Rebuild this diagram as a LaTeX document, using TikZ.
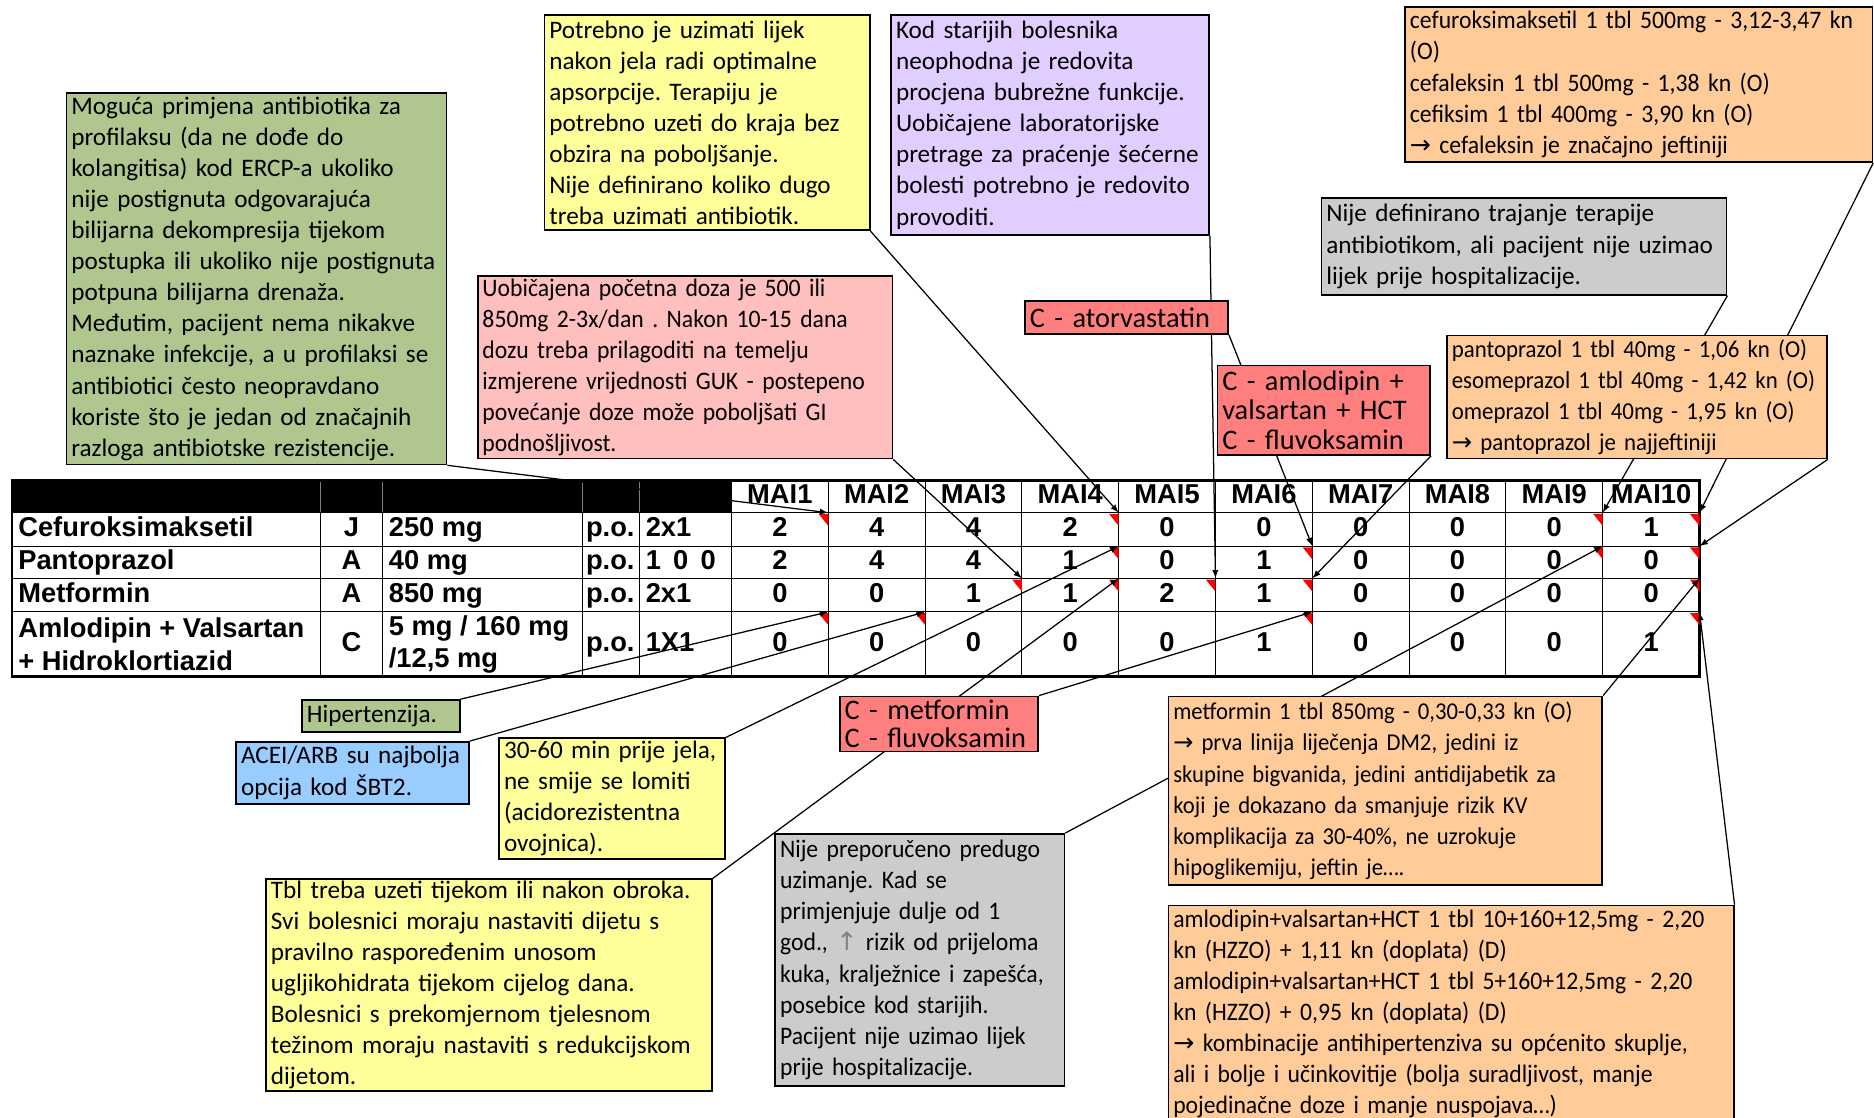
\documentclass[tikz,border=0pt]{standalone}
\usepackage{fontspec}
\setmainfont{Carlito}
\newfontfamily\slimfont{Carlito}[FakeStretch=0.94]
\newfontfamily\tabfont{Liberation Sans}
\newfontfamily\symfont{DejaVu Sans}
\usetikzlibrary{arrows.meta}
\frenchspacing

\definecolor{notegreen}{RGB}{175,199,142}
\definecolor{noteyellow}{RGB}{255,255,153}
\definecolor{notepurple}{RGB}{225,205,255}
\definecolor{noteorange}{RGB}{255,204,153}
\definecolor{notegrey}{RGB}{204,204,204}
\definecolor{notepink}{RGB}{255,191,191}
\definecolor{notered}{RGB}{255,127,127}
\definecolor{noteblue}{RGB}{153,204,255}

\newcommand{\arr}{{\symfont\char"2192}}
\newcommand{\up}{{\symfont\color{gray}\char"2191}}
\newcommand{\nobreaks}{\hyphenpenalty=10000\exhyphenpenalty=10000}

\pgfdeclarelayer{grid}
\pgfdeclarelayer{links}
\pgfsetlayers{grid,links,main}

\tikzset{
  note/.style={draw=black, line width=0.8pt, anchor=north west, align=left,
    inner xsep=0.08cm, inner ysep=0pt, font=\fontsize{12}{14.8}\selectfont\nobreaks},
  slim/.style={font=\slimfont\fontsize{12}{14.8}\selectfont\nobreaks},
  rednote/.style={note, fill=notered, font=\fontsize{13.5}{14.2}\selectfont\nobreaks},
  cell/.style={font=\tabfont\bfseries\fontsize{13}{15.3}\selectfont, inner sep=0pt,
    text height=9.4pt, text depth=2.7pt},
  link/.style={line width=0.6pt, -{Latex[length=4pt,width=3pt]}}
}

\begin{document}
\begin{tikzpicture}[x=0.02cm,y=-0.02cm]
\useasboundingbox (0,0) rectangle (1568,935);

% table
\begin{pgfonlayer}{grid}
\fill (10,402) rectangle (612,429);
\foreach \xx in {268,320,487,535}
  \draw[gray] (\xx,402) -- (\xx,429);
\foreach \xx in {268,320,487,535}
  \draw (\xx,429) -- (\xx,566);
\foreach \xx in {612,693,...,1422}
  \draw (\xx,402) -- (\xx,566);
\foreach \yy in {429,457,484,512}
  \draw (10,\yy) -- (1422,\yy);
\draw (612,402) -- (1422,402);
\draw[line width=1.2pt] (10,402) rectangle (1422,566);

\foreach \r/\yy in {1/429,2/457,3/484,4/512}
  \foreach \k in {1,...,10}
    \coordinate (c-\r-\k) at ({612+81*\k},\yy);

\foreach \k in {1,...,10}
  \node[cell] (mai\k) at ({612+81*\k-40.5},415.5) {MAI\k};

\foreach \r/\yy/\name/\atc/\dose/\freq in {1/443/Cefuroksimaksetil/J/250 mg/2x1,
    2/470.5/Pantoprazol/A/40 mg/{1\hspace{.45em}0\hspace{.45em}0},
    3/498/Metformin/A/850 mg/2x1}{
  \node[cell,anchor=west] (name\r) at (15,\yy) {\name};
  \node[cell] (atc\r) at (294,\yy) {\atc};
  \node[cell,anchor=west] (dose\r) at (325,\yy) {\dose};
  \node[cell,anchor=west] (route\r) at (490,\yy) {p.o.};
  \node[cell,anchor=west] (freq\r) at (540,\yy) {\freq};
}
\node[cell,anchor=west,align=left,text height=,text depth=] (name4) at (15,539) {Amlodipin + Valsartan\\+ Hidroklortiazid};
\node[cell] (atc4) at (294,539) {C};
\node[cell,anchor=west,align=left,text height=,text depth=] (dose4) at (325,539) {5 mg / 160 mg\\/12,5 mg};
\node[cell,anchor=west] (route4) at (490,539) {p.o.};
\node[cell,anchor=west] (freq4) at (540,539) {1X1};

\foreach \r/\yy/\vals in {1/443/{2,4,4,2,0,0,0,0,0,1},2/470.5/{2,4,4,1,0,1,0,0,0,0},
    3/498/{0,0,1,1,2,1,0,0,0,0},4/539/{0,0,0,0,0,1,0,0,0,1}}
  \foreach \v [count=\k] in \vals
    \node[cell] (v\r-\k) at ({612+81*\k-40.5},\yy) {\v};

% comment markers
\foreach \r/\k in {1/1,1/4,1/9,1/10,2/4,2/6,2/9,2/10,3/3,3/4,3/5,3/6,3/10,4/1,4/2,4/6,4/10}
  \fill[red] (c-\r-\k) ++(-8,1) -- ++(8,0) -- ++(0,10) -- cycle;
\end{pgfonlayer}

% comments
\node[note,fill=notegreen,text width=6.2cm,minimum height=6.22cm] (mog) at (55,77)
  {Moguća primjena antibiotika za\\profilaksu (da ne dođe do\\kolangitisa) kod ERCP-a ukoliko\\nije postignuta odgovarajuća\\bilijarna dekompresija tijekom\\postupka ili ukoliko nije postignuta\\potpuna bilijarna drenaža.\\Međutim, pacijent nema nikakve\\naznake infekcije, a u profilaksi se\\antibiotici često neopravdano\\koriste što je jedan od značajnih\\razloga antibiotske rezistencije.};
\node[note,fill=noteyellow,text width=5.28cm,minimum height=3.6cm] (potrebno) at (455,12)
  {Potrebno je uzimati lijek\\nakon jela radi optimalne\\apsorpcije. Terapiju je\\potrebno uzeti do kraja bez\\obzira na poboljšanje.\\Nije definirano koliko dugo\\treba uzimati antibiotik.};
\node[note,fill=notepurple,text width=5.16cm,minimum height=3.68cm] (kod) at (745,12)
  {Kod starijih bolesnika\\neophodna je redovita\\procjena bubrežne funkcije.\\Uobičajene laboratorijske\\pretrage za praćenje šećerne\\bolesti potrebno je redovito\\provoditi.};
\node[note,slim,fill=noteorange,text width=7.66cm,minimum height=2.6cm] (cefcost) at (1175,5)
  {cefuroksimaksetil 1 tbl 500mg - 3,12-3,47 kn\\(O)\\cefaleksin 1 tbl 500mg - 1,38 kn (O)\\cefiksim 1 tbl 400mg - 3,90 kn (O)\\\arr{} cefaleksin je značajno jeftiniji};
\node[note,fill=notegrey,text width=6.62cm,minimum height=1.62cm] (trajanje) at (1105,165)
  {Nije definirano trajanje terapije\\antibiotikom, ali pacijent nije uzimao\\lijek prije hospitalizacije.};
\node[note,slim,fill=notepink,text width=6.78cm,minimum height=3.06cm] (doza) at (399,230)
  {Uobičajena početna doza je 500 ili\\850mg 2-3x/dan . Nakon 10-15 dana\\dozu treba prilagoditi na temelju\\izmjerene vrijednosti GUK - postepeno\\povećanje doze može poboljšati GI\\podnošljivost.};
\node[rednote,text width=3.24cm,minimum height=0.56cm] (atorva) at (857,251)
  {C - atorvastatin};
\node[rednote,text width=3.4cm,minimum height=1.5cm] (amlo) at (1018,305)
  {C - amlodipin +\\valsartan + HCT\\C - fluvoksamin};
\node[note,fill=noteorange,text width=6.2cm,minimum height=2.06cm,font=\slimfont\fontsize{11.6}{14.8}\selectfont\nobreaks] (pantocost) at (1210,280)
  {pantoprazol 1 tbl 40mg - 1,06 kn (O)\\esomeprazol 1 tbl 40mg - 1,42 kn (O)\\omeprazol 1 tbl 40mg - 1,95 kn (O)\\\arr{} pantoprazol je najjeftiniji};
\node[note,fill=notegreen,text width=2.48cm,minimum height=0.54cm] (hiper) at (252,585)
  {Hipertenzija.};
\node[note,fill=noteblue,text width=3.74cm,minimum height=1.04cm] (acei) at (197,620)
  {ACEI/ARB su najbolja\\opcija kod ŠBT2.};
\node[note,fill=noteyellow,text width=3.62cm,minimum height=2.02cm] (prijejela) at (417,617)
  {30-60 min prije jela,\\ne smije se lomiti\\(acidorezistentna\\ovojnica).};
\node[rednote,text width=3.16cm,minimum height=0.92cm,font=\fontsize{13.5}{13}\selectfont\nobreaks] (metflu) at (702,582)
  {C - metformin\\C - fluvoksamin};
\node[note,fill=noteyellow,text width=7.3cm,minimum height=3.54cm] (tbl) at (222,735)
  {Tbl treba uzeti tijekom ili nakon obroka.\\Svi bolesnici moraju nastaviti dijetu s\\pravilno raspoređenim unosom\\ugljikohidrata tijekom cijelog dana.\\Bolesnici s prekomjernom tjelesnom\\težinom moraju nastaviti s redukcijskom\\dijetom.};
\node[note,slim,fill=notegrey,text width=4.68cm,minimum height=4.22cm] (predugo) at (648,697)
  {Nije preporučeno predugo\\uzimanje. Kad se\\primjenjuje dulje od 1\\god., \up{} rizik od prijeloma\\kuka, kralježnice i zapešća,\\posebice kod starijih.\\Pacijent nije uzimao lijek\\prije hospitalizacije.};
\node[note,fill=noteorange,text width=7.1cm,minimum height=3.16cm,font=\slimfont\fontsize{11.5}{14.8}\selectfont\nobreaks] (metcost) at (977,582)
  {metformin 1 tbl 850mg - 0,30-0,33 kn (O)\\\arr{} prva linija liječenja DM2, jedini iz\\skupine bigvanida, jedini antidijabetik za\\koji je dokazano da smanjuje rizik KV\\komplikacija za 30-40\%, ne uzrokuje\\hipoglikemiju, jeftin je….};
\node[note,slim,fill=noteorange,text width=9.3cm,minimum height=3.62cm] (amlocost) at (977,757)
  {amlodipin+valsartan+HCT 1 tbl 10+160+12,5mg - 2,20\\kn (HZZO) + 1,11 kn (doplata) (D)\\amlodipin+valsartan+HCT 1 tbl 5+160+12,5mg - 2,20\\kn (HZZO) + 0,95 kn (doplata) (D)\\\arr{} kombinacije antihipertenziva su općenito skuplje,\\ali i bolje i učinkovitije (bolja suradljivost, manje\\pojedinačne doze i manje nuspojava…)};

% connectors
\begin{pgfonlayer}{links}
\draw[link] (mog.south east) -- (c-1-1);
\draw[link] (potrebno.south east) -- (c-1-4);
\draw[link] (kod.south east) -- (c-3-5);
\draw[link] (atorva.south east) -- (c-2-6);
\draw[link] (amlo.south east) -- (c-3-6);
\draw[link] (doza.south east) -- (c-3-3);
\draw[link] (trajanje.south east) -- (c-1-9);
\draw[link] (cefcost.south east) -- (c-1-10);
\draw[link] (pantocost.south east) -- (c-2-10);
\draw[link] (hiper.north east) -- (c-4-1);
\draw[link] (acei.north east) -- (c-4-2);
\draw[link] (prijejela.north east) -- (c-2-4);
\draw[link] (tbl.north east) -- (c-3-4);
\draw[link] (metflu.north east) -- (c-4-6);
\draw[link] (predugo.north east) -- (c-2-9);
\draw[link] (metcost.north east) -- (c-3-10);
\draw[link] (amlocost.north east) -- (c-4-10);
\end{pgfonlayer}
\end{tikzpicture}
\end{document}
